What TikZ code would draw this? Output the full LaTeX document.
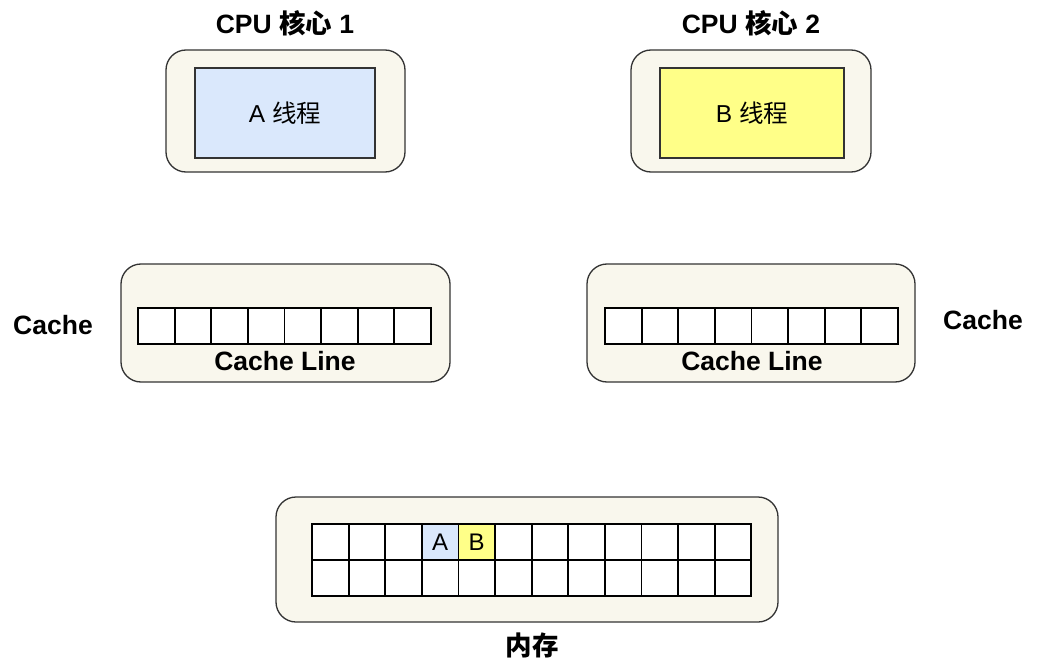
\documentclass[tikz,border=0pt]{standalone}
\usepackage{fontspec}
\setmainfont{Liberation Sans}
\newfontfamily\cjk{Noto Sans CJK SC}
\usetikzlibrary{positioning}

\definecolor{boxcream}{HTML}{F9F7ED}
\definecolor{boxedge}{HTML}{333333}
\definecolor{threada}{HTML}{DAE8FC}
\definecolor{threadb}{HTML}{FFFF88}

\newcommand{\zh}[1]{{\cjk #1}}

\tikzset{
  outerbox/.style={draw=boxedge,fill=boxcream,line width=1.3pt,rounded corners=20pt},
  threadbox/.style={draw=boxedge,line width=1.3pt,minimum width=180pt,minimum height=90pt,
    font=\fontsize{24.5}{28}\selectfont},
  cell/.style={draw=black,fill=white,line width=1.8pt,minimum width=36.6pt,minimum height=36pt,
    inner sep=0pt,font=\fontsize{24}{28}\selectfont},
  title/.style={font=\fontsize{26.5}{30}\selectfont\bfseries}
}

\begin{document}
\begin{tikzpicture}[x=1pt,y=-1pt]
  \useasboundingbox (0,0) rectangle (1037,669);

  % CPU cores
  \node[outerbox,minimum width=239pt,minimum height=122pt] (core1) at (285.5,111) {};
  \node[threadbox,fill=threada] (ta) at (285,113) {A \zh{线程}};
  \node[title] (core1lbl) at (285,23) {CPU \zh{核心} 1};

  \node[outerbox,minimum width=240pt,minimum height=122pt] (core2) at (751,111) {};
  \node[threadbox,fill=threadb,minimum width=184pt] (tb) at (752,113) {B \zh{线程}};
  \node[title] (core2lbl) at (751,23) {CPU \zh{核心} 2};

  % caches
  \node[outerbox,minimum width=329pt,minimum height=118pt] (cache1) at (285.5,323) {};
  \node[outerbox,minimum width=328pt,minimum height=118pt] (cache2) at (751,323) {};
  \foreach \i in {0,...,7} {
    \node[cell] (ca-\i) at ({156.3+36.6*\i},326) {};
    \node[cell] (cb-\i) at ({623.3+36.6*\i},326) {};
  }
  \node[title] (line1) at (285,361) {Cache Line};
  \node[title] (line2) at (752,361) {Cache Line};
  \node[title] (cache1lbl) at (53,325) {Cache};
  \node[title] (cache2lbl) at (983,320) {Cache};

  % main memory
  \node[outerbox,minimum width=502pt,minimum height=125pt] (mem) at (527,559.5) {};
  \foreach \i in {0,...,11} {
    \node[cell] (m1-\i) at ({330.3+36.6*\i},542) {};
    \node[cell] (m2-\i) at ({330.3+36.6*\i},578) {};
  }
  \node[cell,fill=threada] (ma) at (m1-3) {A};
  \node[cell,fill=threadb] (mb) at (m1-4) {B};
  \node[title] (memlbl) at (532,645) {\zh{内存}};
\end{tikzpicture}
\end{document}
